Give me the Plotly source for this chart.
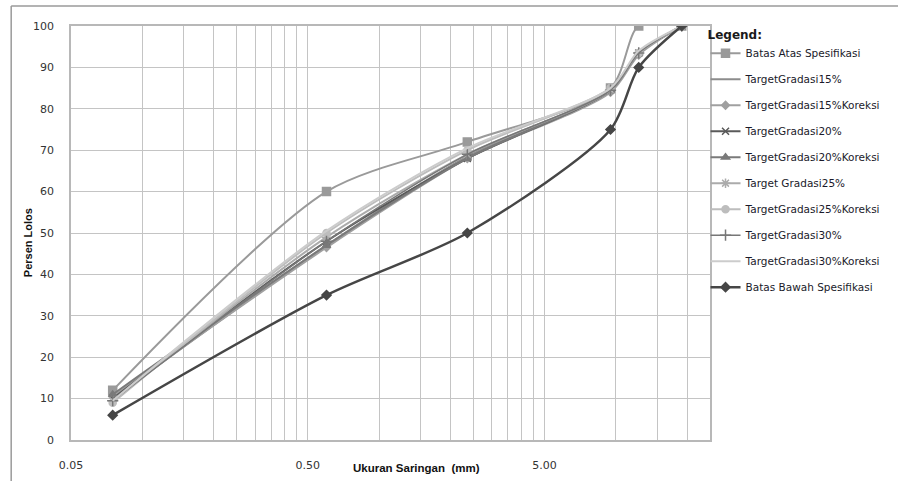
import plotly.graph_objects as go

sieve_mm = [0.075, 0.6, 2.36, 9.5, 12.5, 19]

batas_atas = [12, 60, 72, 85, 100, 100]
target15 = [10, 47, 68.5, 84.5, 93.5, 100]
target15k = [10.5, 46.5, 68, 84, 93, 100]
target20 = [10, 48, 68, 84.5, 93.5, 100]
target20k = [11, 47, 68, 84.5, 93.5, 100]
target25 = [9.5, 49, 69, 84.5, 93.5, 100]
target25k = [9, 50, 70, 85, 93.5, 100]
target30 = [9.5, 48, 69, 84.5, 93.5, 100]
target30k = [9.5, 50.5, 70.5, 85, 94, 100]
batas_bawah = [6, 35, 50, 75, 90, 100]

series = [
    ("Batas Atas Spesifikasi", batas_atas, "#9a9a9a", "square", 8, 2),
    ("TargetGradasi15%", target15, "#8c8c8c", None, 0, 2),
    ("TargetGradasi15%Koreksi", target15k, "#a0a0a0", "diamond", 6, 2),
    ("TargetGradasi20%", target20, "#5a5a5a", "x-thin-open", 7, 2),
    ("TargetGradasi20%Koreksi", target20k, "#7a7a7a", "triangle-up", 7, 2),
    ("Target Gradasi25%", target25, "#ababab", "asterisk-open", 8, 2),
    ("TargetGradasi25%Koreksi", target25k, "#bdbdbd", "circle", 7, 2),
    ("TargetGradasi30%", target30, "#777777", "cross-thin-open", 8, 1.5),
    ("TargetGradasi30%Koreksi", target30k, "#cccccc", None, 0, 2),
    ("Batas Bawah Spesifikasi", batas_bawah, "#464646", "diamond", 7, 2.5),
]

x_major = [0.05, 0.5, 5, 50]
x_major_text = ["0.05", "0.50", "5.00", ""]
x_minor = [0.1, 0.15, 0.2, 0.25, 0.3, 0.35, 0.4, 0.45,
           1.0, 1.5, 2.0, 2.5, 3.0, 3.5, 4.0, 4.5,
           10, 15, 20]
y_ticks = list(range(0, 101, 10))

fig = go.Figure()
for i, (name, vals, col, sym, size, w) in enumerate(series):
    mode = "lines+markers" if sym else "lines"
    marker = dict(symbol=sym, size=size, color=col, line=dict(color=col, width=1.5)) if sym else None
    fig.add_trace(go.Scatter(
        x=sieve_mm, y=vals, name=name, mode=mode,
        line=dict(color=col, width=w, shape="spline", smoothing=0.8),
        marker=marker, legendgroup=f"g{i}",
    ))

grid = "#c4c4c4"
fig.update_xaxes(
    type="log", range=[0.69897 - 2, 1.39794],
    tickmode="array", tickvals=x_major, ticktext=x_major_text,
    showgrid=True, gridcolor=grid, gridwidth=1,
    minor=dict(tickmode="array", tickvals=x_minor, showgrid=True, gridcolor=grid, gridwidth=1, ticks=""),
    showline=True, linecolor="#b8b8b8", linewidth=1.5, mirror=True,
    ticks="", ticklabelstandoff=14, automargin=False,
    tickfont=dict(family="DejaVu Sans", size=11, color="#333333"),
    zeroline=False,
)
fig.update_yaxes(
    range=[0, 100], tickmode="array", tickvals=y_ticks,
    showgrid=True, gridcolor=grid, gridwidth=1,
    showline=True, linecolor="#b8b8b8", linewidth=1.5, mirror=True,
    ticks="", ticklabelstandoff=13, automargin=False,
    tickfont=dict(family="DejaVu Sans", size=11, color="#333333"),
    zeroline=False,
)

fig.update_layout(
    width=898, height=481,
    margin=dict(l=71, r=186, t=26, b=41),
    paper_bgcolor="white", plot_bgcolor="white",
    showlegend=True,
    legend=dict(
        title=dict(text="<b>Legend:</b>", font=dict(family="DejaVu Sans", size=12, color="#1a1a1a")),
        x=0.993, y=1.007, xanchor="left", yanchor="top",
        font=dict(family="DejaVu Sans", size=10.5, color="#1a1a2a"),
        traceorder="grouped", tracegroupgap=7, maxheight=460,
        bgcolor="rgba(0,0,0,0)", itemwidth=30,
    ),
    annotations=[
        dict(text="<b>Persen Lolos</b>", x=(28 - 71) / 641, y=(440 - 243) / 414, xref="paper", yref="paper",
             xanchor="center", yanchor="middle",
             textangle=-90, showarrow=False, font=dict(family="Liberation Sans", size=11, color="#111111")),
        dict(text="<b>Ukuran Saringan  (mm)</b>", x=(418 - 71) / 641, y=(440 - 468) / 414, xref="paper", yref="paper",
             xanchor="center", yanchor="middle", showarrow=False,
             font=dict(family="Liberation Sans", size=11.5, color="#111111")),
    ],
    shapes=[
        dict(type="line", xref="paper", yref="paper", x0=(11 - 71) / 641, x1=1.3, y0=(440 - 6) / 414, y1=(440 - 6) / 414,
             line=dict(color="#9a9a9a", width=1.5)),
        dict(type="line", xref="paper", yref="paper", x0=(11 - 71) / 641, x1=(11 - 71) / 641, y0=(440 - 6) / 414, y1=-0.2,
             line=dict(color="#9a9a9a", width=1.5)),
    ],
)

fig.write_html("out.html", config={"displayModeBar": False},
               post_script="document.body.style.margin='0';")
